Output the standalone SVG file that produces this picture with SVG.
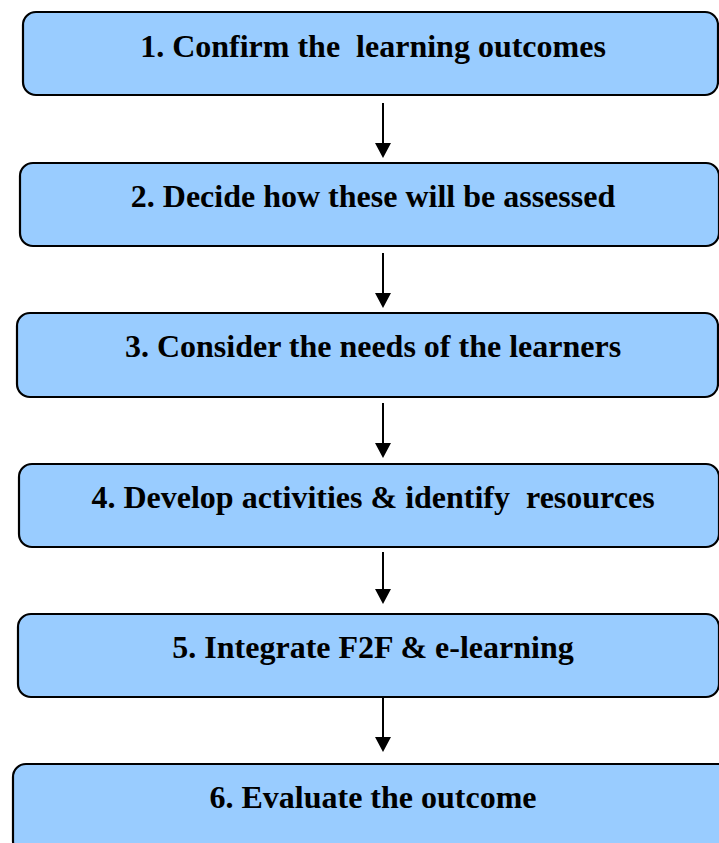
<svg xmlns="http://www.w3.org/2000/svg" width="719" height="843" viewBox="0 0 719 843">
  <defs>
    <style>
      .box { fill: #99CCFF; stroke: #000000; stroke-width: 2.2; }
      .label { font-family: "Liberation Serif", "Times New Roman", serif; font-weight: bold; font-size: 32px; fill: #000000; text-anchor: middle; white-space: pre; }
      .link { stroke: #000000; stroke-width: 2; fill: none; }
      .head { fill: #000000; }
    </style>
  </defs>
  <rect width="719" height="843" fill="#ffffff"/>

  <g id="step1">
    <rect class="box" x="23" y="12" width="695" height="83" rx="13" ry="13"/>
    <text class="label" x="373" y="57" xml:space="preserve">1. Confirm the  learning outcomes</text>
  </g>
  <g id="step2">
    <rect class="box" x="20" y="163" width="699" height="83" rx="13" ry="13"/>
    <text class="label" x="373" y="207">2. Decide how these will be assessed</text>
  </g>
  <g id="step3">
    <rect class="box" x="17" y="313" width="701" height="84" rx="13" ry="13"/>
    <text class="label" x="373" y="357">3. Consider the needs of the learners</text>
  </g>
  <g id="step4">
    <rect class="box" x="19" y="464" width="700" height="83" rx="13" ry="13"/>
    <text class="label" x="373" y="508" xml:space="preserve">4. Develop activities &amp; identify  resources</text>
  </g>
  <g id="step5">
    <rect class="box" x="18" y="614" width="701" height="83" rx="13" ry="13"/>
    <text class="label" x="373" y="658">5. Integrate F2F &amp; e-learning</text>
  </g>
  <g id="step6">
    <rect class="box" x="13" y="764" width="720" height="90" rx="13" ry="13"/>
    <text class="label" x="373" y="808">6. Evaluate the outcome</text>
  </g>

  <g id="connectors">
    <line class="link" x1="383" y1="103" x2="383" y2="145"/>
    <polygon class="head" points="375,143 391,143 383,158"/>
    <line class="link" x1="383" y1="253" x2="383" y2="295"/>
    <polygon class="head" points="375,293 391,293 383,308"/>
    <line class="link" x1="383" y1="403" x2="383" y2="445"/>
    <polygon class="head" points="375,443 391,443 383,458"/>
    <line class="link" x1="383" y1="552" x2="383" y2="591"/>
    <polygon class="head" points="375,589 391,589 383,604"/>
    <line class="link" x1="383" y1="698" x2="383" y2="739"/>
    <polygon class="head" points="375,737 391,737 383,752"/>
  </g>
</svg>
